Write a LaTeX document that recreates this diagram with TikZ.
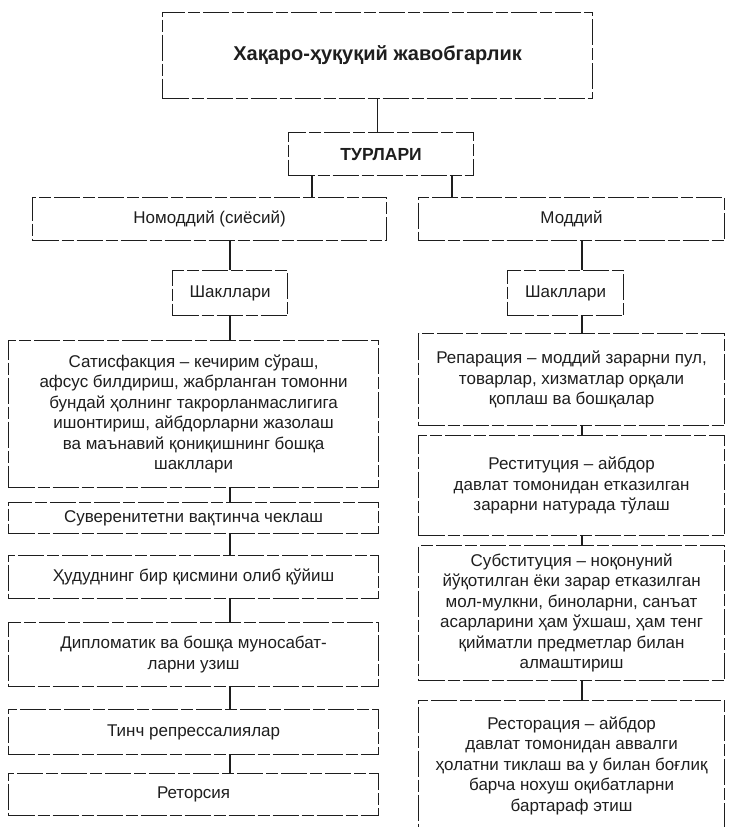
\documentclass[tikz,border=0pt]{standalone}
\usepackage{fontspec}
\setmainfont{Liberation Sans}
\usetikzlibrary{positioning}
\definecolor{ink}{HTML}{1E1E1E}
\tikzset{
  box/.style={draw=ink,line width=1.2pt,dash pattern=on 26pt off 3pt on 12pt off 3pt,
    anchor=north west,inner sep=0pt,align=center,text=ink,font=\fontsize{17}{20.5}\selectfont},
  tbox/.style={box,font=\bfseries\fontsize{20}{24}\selectfont},
  hbox/.style={box,font=\bfseries\fontsize{17.5}{21}\selectfont},
  sz/.style 2 args={minimum width=#1pt,minimum height=#2pt},
  ln/.style={draw=ink,line width=1.3pt},
}

\begin{document}
\begin{tikzpicture}[x=1pt,y=-1pt]
  \useasboundingbox (0,0) rectangle (730,827);

  \node[tbox, sz={430}{86}] (title) at (162,12) {Хақаро-ҳуқуқий жавобгарлик};
  \node[hbox, sz={185}{43}] (turlari) at (288,132) {ТУРЛАРИ};

  \node[box, sz={354}{43}] (nomod) at (32,197) {Номоддий (сиёсий)};
  \node[box, sz={306}{43}] (mod) at (418,197) {Моддий};

  \node[box, sz={115}{45}] (shl) at (172,270) {Шакллари};
  \node[box, sz={116}{45}] (shr) at (507,270) {Шакллари};

  % left column
  \node[box, sz={370}{147}] (l1) at (8,340)
    {Сатисфакция – кечирим сўраш,\\ афсус билдириш, жабрланган томонни\\
     бундай ҳолнинг такрорланмаслигига\\ ишонтириш, айбдорларни жазолаш\\
     ва маънавий қониқишнинг бошқа\\ шакллари};
  \node[box, sz={370}{31}] (l2) at (8,502) {Суверенитетни вақтинча чеклаш};
  \node[box, sz={370}{43}] (l3) at (8,555) {Ҳудуднинг бир қисмини олиб қўйиш};
  \node[box, sz={370}{64}] (l4) at (8,622) {Дипломатик ва бошқа муносабат-\\ларни узиш};
  \node[box, sz={370}{45}] (l5) at (8,709) {Тинч репрессалиялар};
  \node[box, sz={370}{42}] (l6) at (8,773) {Реторсия};

  % right column
  \node[box, sz={306}{92}] (r1) at (418,333)
    {Репарация – моддий зарарни пул,\\ товарлар, хизматлар орқали\\ қоплаш ва бошқалар};
  \node[box, sz={306}{100}] (r2) at (418,435)
    {Реституция – айбдор\\ давлат томонидан етказилган\\ зарарни натурада тўлаш};
  \node[box, sz={306}{135}] (r3) at (418,545)
    {Субституция – ноқонуний\\ йўқотилган ёки зарар етказилган\\ мол-мулкни, биноларни, санъат\\
     асарларини ҳам ўхшаш, ҳам тенг\\ қийматли предметлар билан\\ алмаштириш};
  \node[box, sz={306}{130}] (r4) at (418,700)
    {Ресторация – айбдор\\ давлат томонидан аввалги\\ ҳолатни тиклаш ва у билан боғлиқ\\
     барча нохуш оқибатларни\\ бартараф этиш};

  \coordinate (cl) at (312,0);
  \coordinate (cr) at (452,0);
  \coordinate (rx) at (582,0);

  \draw[ln] (title.south) -- (title.south |- turlari.north);
  \draw[ln] (turlari.south -| cl) -- (nomod.north -| cl);
  \draw[ln] (turlari.south -| cr) -- (mod.north -| cr);
  \draw[ln] (nomod.south -| shl) -- (shl.north);
  \draw[ln] (mod.south -| rx) -- (shr.north -| rx);
  \draw[ln] (shl.south) -- (l1.north -| shl);
  \draw[ln] (shr.south -| rx) -- (r1.north -| rx);
  \foreach \a/\b in {l1/l2,l2/l3,l3/l4,l4/l5,l5/l6}
    \draw[ln] (\a.south -| shl) -- (\b.north -| shl);
  \foreach \a/\b in {r1/r2,r2/r3,r3/r4}
    \draw[ln] (\a.south -| rx) -- (\b.north -| rx);
\end{tikzpicture}
\end{document}
